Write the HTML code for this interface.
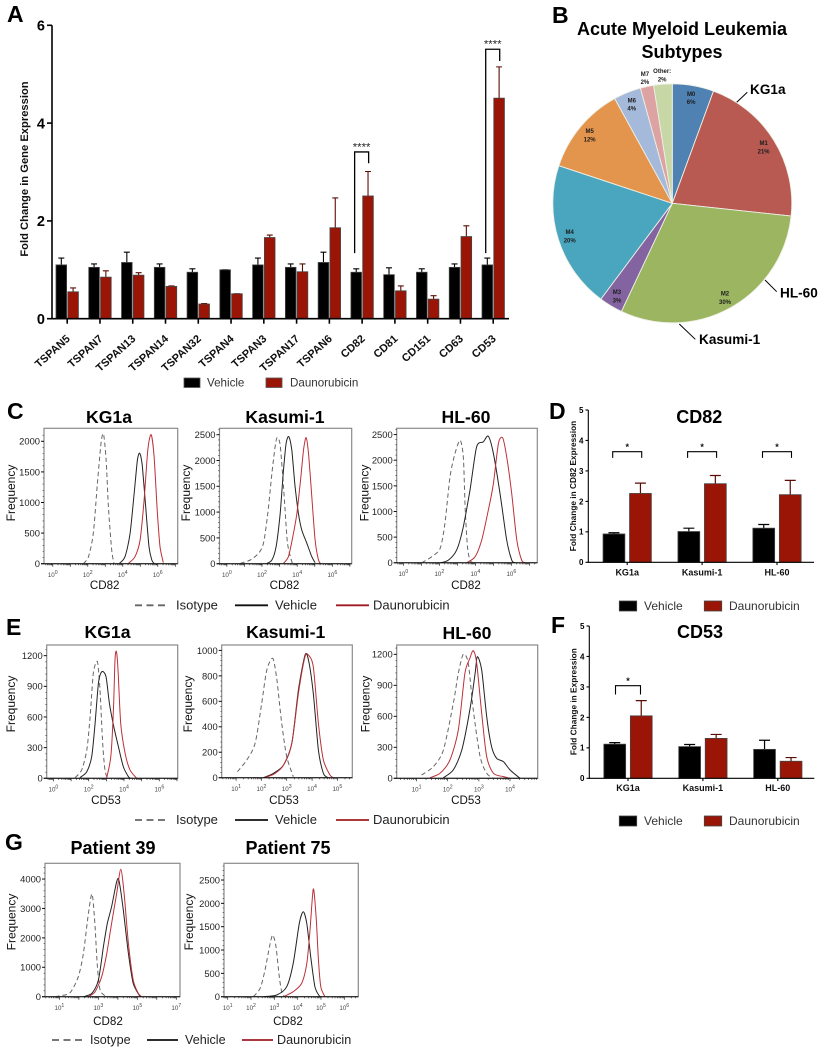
<!DOCTYPE html>
<html lang="en">
<head>
<meta charset="utf-8">
<title>Tetraspanin expression after daunorubicin treatment</title>
<style>
html,body{margin:0;padding:0;background:#fff;}
svg{display:block;font-family:"Liberation Sans",Arial,sans-serif;}
.letter{font-size:23px;font-weight:bold;fill:#000;}
.ptitle{font-size:17.6px;font-weight:bold;fill:#000;text-anchor:middle;}
.legtext{font-size:13px;fill:#222;}
.legsmall{font-size:11.6px;fill:#333;}
.callout{font-size:13.6px;font-weight:bold;fill:#000;}
</style>
</head>
<body>
<svg id="figure" xmlns="http://www.w3.org/2000/svg" width="823" height="1050" viewBox="0 0 823 1050">
  <rect x="0" y="0" width="823" height="1050" fill="#fff"/>

  <text class="letter" x="7" y="22">A</text>
  <text class="letter" x="552" y="23">B</text>
  <text class="letter" x="7" y="419">C</text>
  <text class="letter" x="549" y="419">D</text>
  <text class="letter" x="6" y="635">E</text>
  <text class="letter" x="551" y="633">F</text>
  <text class="letter" x="5" y="850">G</text>

  <!-- Panel A static labels -->
  <text transform="translate(28,169) rotate(-90)" text-anchor="middle" font-size="11.2" font-weight="bold" fill="#111">Fold Change in Gene Expression</text>
  <g>
    <rect x="184" y="378" width="16" height="9.5" fill="#000" stroke="#555" stroke-width="0.8"/>
    <text class="legsmall" x="207" y="386.5">Vehicle</text>
    <rect x="266" y="378" width="16" height="9.5" fill="#9b1506" stroke="#555" stroke-width="0.8"/>
    <text class="legsmall" x="290" y="386.5">Daunorubicin</text>
  </g>

  <!-- Panel B static labels -->
  <text x="682" y="35" text-anchor="middle" font-size="18" font-weight="bold" fill="#000">Acute Myeloid Leukemia</text>
  <text x="682" y="58" text-anchor="middle" font-size="18" font-weight="bold" fill="#000">Subtypes</text>
  <g>
    <line x1="735.7" y1="103.3" x2="747.3" y2="92.3" stroke="#000" stroke-width="1"/>
    <text class="callout" x="750" y="94">KG1a</text>
    <line x1="765" y1="280" x2="776.7" y2="291.7" stroke="#000" stroke-width="1"/>
    <text class="callout" x="780" y="297.5">HL-60</text>
    <line x1="679.3" y1="324" x2="695.3" y2="339.3" stroke="#000" stroke-width="1"/>
    <text class="callout" x="699" y="344">Kasumi-1</text>
  </g>

  <!-- Flow titles -->
  <text class="ptitle" x="109" y="423">KG1a</text>
  <text class="ptitle" x="285" y="423">Kasumi-1</text>
  <text class="ptitle" x="466" y="423">HL-60</text>
  <text class="ptitle" x="107.5" y="638">KG1a</text>
  <text class="ptitle" x="285.7" y="638">Kasumi-1</text>
  <text class="ptitle" x="467" y="639">HL-60</text>
  <text class="ptitle" x="113" y="854" style="font-size:18px">Patient 39</text>
  <text class="ptitle" x="288" y="854" style="font-size:18px">Patient 75</text>

  <!-- Flow legends -->
  <g>
    <line x1="135" y1="605.3" x2="168" y2="605.3" stroke="#666" stroke-width="1.8" stroke-dasharray="7 4.5"/>
    <text class="legtext" x="176" y="609.5">Isotype</text>
    <line x1="235" y1="605.3" x2="268" y2="605.3" stroke="#111" stroke-width="1.8"/>
    <text class="legtext" x="275" y="609.5">Vehicle</text>
    <line x1="336" y1="605.3" x2="369" y2="605.3" stroke="#a01c22" stroke-width="1.8"/>
    <text class="legtext" x="373" y="609.5">Daunorubicin</text>
  </g>
  <g>
    <line x1="135" y1="820" x2="168" y2="820" stroke="#666" stroke-width="1.8" stroke-dasharray="7 4.5"/>
    <text class="legtext" x="176" y="824">Isotype</text>
    <line x1="235" y1="820" x2="268" y2="820" stroke="#111" stroke-width="1.8"/>
    <text class="legtext" x="275" y="824">Vehicle</text>
    <line x1="336" y1="820" x2="369" y2="820" stroke="#a01c22" stroke-width="1.8"/>
    <text class="legtext" x="373" y="824">Daunorubicin</text>
  </g>
  <g>
    <line x1="52" y1="1040" x2="83" y2="1040" stroke="#666" stroke-width="1.8" stroke-dasharray="7 4.5"/>
    <text class="legtext" x="90" y="1044" style="font-size:12.6px">Isotype</text>
    <line x1="147" y1="1040" x2="178" y2="1040" stroke="#111" stroke-width="1.8"/>
    <text class="legtext" x="185" y="1044" style="font-size:12.6px">Vehicle</text>
    <line x1="242" y1="1040" x2="273" y2="1040" stroke="#a01c22" stroke-width="1.8"/>
    <text class="legtext" x="277" y="1044" style="font-size:12.6px">Daunorubicin</text>
  </g>

  <!-- Panels D and F static labels -->
  <text class="ptitle" x="699.3" y="423" style="font-size:18px">CD82</text>
  <text transform="translate(575.8,486) rotate(-90)" text-anchor="middle" font-size="8.3" font-weight="bold" fill="#111">Fold Change in CD82 Expression</text>
  <g>
    <rect x="619.3" y="601" width="17.4" height="10" fill="#000" stroke="#444" stroke-width="0.8"/>
    <text class="legsmall" x="644" y="610" style="font-size:12px">Vehicle</text>
    <rect x="704.3" y="601" width="17.4" height="10" fill="#9b1506" stroke="#444" stroke-width="0.8"/>
    <text class="legsmall" x="729" y="610" style="font-size:12px">Daunorubicin</text>
  </g>
  <text class="ptitle" x="700" y="638" style="font-size:18px">CD53</text>
  <text transform="translate(576.3,701.7) rotate(-90)" text-anchor="middle" font-size="8.3" font-weight="bold" fill="#111">Fold Change in Expression</text>
  <g>
    <rect x="619.3" y="816" width="17.4" height="10" fill="#000" stroke="#444" stroke-width="0.8"/>
    <text class="legsmall" x="644" y="825" style="font-size:12px">Vehicle</text>
    <rect x="704.3" y="816" width="17.4" height="10" fill="#9b1506" stroke="#444" stroke-width="0.8"/>
    <text class="legsmall" x="729" y="825" style="font-size:12px">Daunorubicin</text>
  </g>
</svg>

<script>
/* ---------- Panel A data ---------- */
const aCategories = ['TSPAN5','TSPAN7','TSPAN13','TSPAN14','TSPAN32','TSPAN4','TSPAN3','TSPAN17','TSPAN6','CD82','CD81','CD151','CD63','CD53'];
const aVehicle = [1.1,1.05,1.15,1.05,0.95,1.0,1.1,1.05,1.15,0.95,0.9,0.95,1.05,1.1];
const aVehicleUpper = [1.24,1.12,1.36,1.12,1.02,1.0,1.24,1.12,1.36,1.02,1.04,1.02,1.12,1.24];
const aDauno = [0.55,0.85,0.89,0.66,0.3,0.51,1.66,0.96,1.86,2.51,0.57,0.4,1.68,4.51];
const aDaunoUpper = [0.63,0.98,0.94,0.67,0.31,0.51,1.71,1.12,2.47,3.01,0.67,0.47,1.9,5.15];
const aYTicks = [0,2,4,6];
const aSigGroups = [9,13];
const aSigTops = [3.41,5.51];
const aSigLeftEnds = [1.34,1.34];
const aSigRightEnds = [3.18,5.27];
const aSigLabels = ['****','****'];

/* ---------- Panel B data ---------- */
const pieNames = ['M0','M1','M2','M3','M4','M5','M6','M7','Other:'];
const pieValues = [5.6,21.1,30.3,3.2,19.9,11.9,3.7,1.8,2.5];
const piePrinted = ['6%','21%','30%','3%','20%','12%','4%','2%','2%'];
const pieColors = ['#4f81b3','#b95a52','#9bb561','#8364a0','#4aa5bf','#e4954d','#a5b9da','#dca3a2','#c7d7a5'];

/* ---------- Panels D and F data ---------- */
const barCategories = ['KG1a','Kasumi-1','HL-60'];
const barYTicks = [0,1,2,3,4,5];
const dVehicle = [0.93,1.01,1.12];
const dVehicleUpper = [0.97,1.12,1.24];
const dDauno = [2.26,2.58,2.22];
const dDaunoUpper = [2.6,2.85,2.69];
const dSigGroups = [0,1,2];
const dSigTops = [3.63,3.63,3.63];
const dSigEnds = [3.43,3.43,3.43];
const fVehicle = [1.12,1.04,0.95];
const fVehicleUpper = [1.17,1.11,1.25];
const fDauno = [2.05,1.31,0.56];
const fDaunoUpper = [2.55,1.44,0.68];
const fSigGroups = [0];
const fSigTops = [3.04];
const fSigEnds = [2.75];

/* ---------- Flow histogram data: [log10 intensity, frequency] ---------- */
const c1Isotype = [[1.75,0],[2.04,115],[2.32,496],[2.55,1313],[2.76,1967],[2.9,2120],[3.05,1695],[3.18,932],[3.37,223],[3.5,0]];
const c1Vehicle = [[3.81,5],[4.13,114],[4.42,496],[4.67,1204],[4.84,1695],[4.97,1804],[5.12,1586],[5.31,930],[5.5,278],[5.66,60],[5.81,0]];
const c1Dauno = [[4.32,5],[4.7,114],[4.99,387],[5.22,1041],[5.43,1858],[5.62,2109],[5.79,1750],[5.98,823],[6.13,278],[6.32,16]];
const c2Isotype = [[0.76,6],[1.33,71],[1.8,200],[2.08,394],[2.33,975],[2.56,1750],[2.77,2332],[2.88,2448],[3.03,2300],[3.18,1686],[3.31,1040],[3.45,394],[3.69,39],[3.79,0]];
const c2Vehicle = [[2.27,6],[2.56,71],[2.8,330],[3.03,975],[3.22,1815],[3.37,2332],[3.52,2461],[3.69,2203],[3.88,1492],[4.07,975],[4.26,652],[4.55,394],[4.83,136],[5.02,19]];
const c2Dauno = [[3.22,6],[3.5,136],[3.75,523],[3.98,975],[4.17,1557],[4.36,2203],[4.51,2442],[4.66,2073],[4.83,1298],[5.02,459],[5.21,71],[5.34,0]];
const c3Isotype = [[1.02,0],[1.57,117],[2.04,279],[2.31,766],[2.59,1675],[2.87,2130],[3.15,2390],[3.33,2065],[3.43,1091],[3.56,312],[3.7,52],[3.89,0]];
const c3Vehicle = [[2.04,0],[2.5,52],[2.96,247],[3.33,701],[3.7,1416],[4.07,2260],[4.44,2357],[4.72,2468],[5,2130],[5.37,1351],[5.74,442],[6.02,52],[6.2,0]];
const c3Dauno = [[3.52,0],[3.98,117],[4.35,442],[4.72,1026],[5,1545],[5.28,2325],[5.52,2435],[5.74,2065],[6.02,1351],[6.3,442],[6.57,52],[6.76,0]];
const e1Isotype = [[1.23,7],[1.6,82],[1.89,277],[2.08,603],[2.26,1027],[2.49,1141],[2.64,864],[2.79,342],[2.92,82],[3.06,0]];
const e1Vehicle = [[1.51,7],[1.89,65],[2.17,212],[2.36,538],[2.55,929],[2.74,1043],[2.98,995],[3.17,734],[3.4,522],[3.68,310],[3.96,114],[4.25,16],[4.38,0]];
const e1Dauno = [[3.02,7],[3.25,212],[3.4,668],[3.49,1157],[3.57,1242],[3.66,1060],[3.81,538],[4.06,245],[4.34,82],[4.72,0]];
const e2Isotype = [[1.05,47],[1.42,139],[1.75,270],[2.01,584],[2.21,846],[2.45,937],[2.61,770],[2.8,429],[3,165],[3.26,8]];
const e2Vehicle = [[2.08,0],[2.47,34],[2.87,99],[3.2,270],[3.46,688],[3.72,963],[3.86,924],[4.05,662],[4.25,217],[4.45,34],[4.64,0]];
const e2Dauno = [[2.14,0],[2.54,34],[2.87,99],[3.2,270],[3.46,662],[3.72,950],[3.86,963],[4.05,872],[4.25,427],[4.45,139],[4.71,21],[4.84,0]];
const e3Isotype = [[1.16,32],[1.54,113],[1.86,274],[2.18,726],[2.34,1016],[2.5,1200],[2.66,1113],[2.82,661],[3.04,210],[3.25,48],[3.47,0]];
const e3Vehicle = [[1.86,6],[2.18,81],[2.45,274],[2.71,661],[2.88,1016],[2.95,1177],[3.09,1048],[3.25,597],[3.41,306],[3.57,194],[3.79,161],[4,81],[4.32,0]];
const e3Dauno = [[1.43,6],[1.75,48],[2.07,177],[2.34,468],[2.55,1016],[2.71,1161],[2.82,1235],[2.93,1113],[3.09,629],[3.25,210],[3.47,48],[3.79,16],[4,0]];
const g1Isotype = [[0.78,0],[1.03,34],[1.55,136],[1.97,680],[2.23,1473],[2.49,2833],[2.68,3490],[2.83,2380],[2.95,1020],[3.09,227],[3.34,34],[3.51,0]];
const g1Vehicle = [[2.23,0],[2.66,113],[3,567],[3.26,1700],[3.46,2493],[3.68,3059],[3.94,3909],[4.06,3943],[4.28,2946],[4.54,1473],[4.79,453],[5.14,0]];
const g1Dauno = [[2.49,0],[2.83,170],[3.17,680],[3.43,1473],[3.68,2493],[3.94,3513],[4.15,4329],[4.32,3513],[4.54,1813],[4.79,567],[5.05,113],[5.22,0]];
const g2Isotype = [[2.1,0],[2.39,179],[2.6,571],[2.79,1071],[2.93,1321],[3.07,1071],[3.21,429],[3.33,71],[3.46,0]];
const g2Vehicle = [[2.53,0],[3.1,36],[3.53,214],[3.81,714],[4.07,1571],[4.24,1821],[4.39,1571],[4.56,857],[4.74,214],[4.93,14],[5.03,0]];
const g2Dauno = [[3.39,0],[3.81,107],[4.17,286],[4.39,714],[4.53,1429],[4.67,2307],[4.79,1714],[4.89,800],[4.99,214],[5.17,0]];

/* Tick values */
const cKgYTicks = [0,500,1000,1500,2000];
const cYTicks = [0,500,1000,1500,2000,2500];
const eKgYTicks = [0,300,600,900,1200];
const eKasYTicks = [0,200,400,600,800,1000];
const g1YTicks = [0,1000,2000,3000,4000];
const g2YTicks = [0,500,1000,1500,2000,2500];
const evenDecades = [0,2,4,6];
const e2Decades = [1,2,3,4,5];
const e3Decades = [1,2,3,4];
const g1Decades = [1,3,5,7];
const g2Decades = [1,2,3,4,5,6];

/* ---------- Helpers ---------- */
const NS = 'http://www.w3.org/2000/svg';
const figure = document.getElementById('figure');
function make(tag, attrs, parent) {
  const node = document.createElementNS(NS, tag);
  for (const k in attrs) node.setAttribute(k, attrs[k]);
  parent.appendChild(node);
  return node;
}
function smoothPath(pts) {
  let d = 'M' + pts[0][0].toFixed(1) + ' ' + pts[0][1].toFixed(1);
  for (let i = 0; i < pts.length - 1; i++) {
    const p0 = pts[Math.max(i - 1, 0)], p1 = pts[i], p2 = pts[i + 1], p3 = pts[Math.min(i + 2, pts.length - 1)];
    const t = 0.13;
    d += 'C' + (p1[0] + (p2[0] - p0[0]) * t).toFixed(1) + ' ' + (p1[1] + (p2[1] - p0[1]) * t).toFixed(1) + ' ' +
         (p2[0] - (p3[0] - p1[0]) * t).toFixed(1) + ' ' + (p2[1] - (p3[1] - p1[1]) * t).toFixed(1) + ' ' +
         p2[0].toFixed(1) + ' ' + p2[1].toFixed(1);
  }
  return d;
}

/* ---------- Grouped bars (A, D, F) ---------- */
function drawBars(panel, o) {
  const root = make('g', {}, figure);
  
  
  const y = v => o.zeroY - v * o.unit;
  const gx = i => o.firstX + i * o.step;

  o.categories.forEach((cat, i) => {
    const cx = gx(i);
    const series = [
      {key: 'vehicle', v: o.vehicle[i], up: o.vehicleUpper[i], left: cx - o.gap / 2 - o.barW, fill: '#000'},
      {key: 'daunorubicin', v: o.dauno[i], up: o.daunoUpper[i], left: cx + o.gap / 2, fill: '#9b1506'}
    ];
    series.forEach(s => {
      const mid = s.left + o.barW / 2;
      const err = make('path', {
        d: 'M' + mid + ' ' + y(s.v) + 'V' + y(s.up) + 'M' + (mid - o.cap / 2) + ' ' + y(s.up) + 'H' + (mid + o.cap / 2),
        stroke: s.key === 'vehicle' ? '#000' : '#5a0d05', 'stroke-width': o.errW, fill: 'none'
      }, root);
      
      
      const bar = make('rect', {
        x: s.left, y: y(s.v), width: o.barW, height: o.zeroY - y(s.v),
        fill: s.fill, stroke: '#444', 'stroke-width': 0.8
      }, root);
      
      
    });

    const tick = make('line', {x1: cx, x2: cx, y1: o.zeroY, y2: o.zeroY + o.tickLen, stroke: '#000', 'stroke-width': o.axisW}, root);
    
    

    let lab;
    if (o.rotated) {
      lab = make('text', {
        transform: 'translate(' + (cx + 3.5) + ',' + (o.zeroY + 21) + ') rotate(-42)',
        'text-anchor': 'end', 'font-size': 11, 'font-weight': 'bold', fill: '#111'
      }, root);
    } else {
      lab = make('text', {x: cx, y: o.labelY, 'text-anchor': 'middle', 'font-size': 9, 'font-weight': 'bold', fill: '#111'}, root);
    }
    lab.textContent = cat;
    
    
  });

  const yAxis = make('line', {x1: o.axisX, x2: o.axisX, y1: y(o.yTicks[o.yTicks.length - 1]), y2: o.zeroY + o.axisW / 2, stroke: '#000', 'stroke-width': o.axisW}, root);
  
  
  const xAxis = make('line', {x1: o.axisX, x2: o.axisEnd, y1: o.zeroY, y2: o.zeroY, stroke: '#000', 'stroke-width': o.axisW}, root);
  
  

  o.yTicks.forEach(v => {
    const t = make('line', {x1: o.axisX - o.tickLen, x2: o.axisX, y1: y(v), y2: y(v), stroke: '#000', 'stroke-width': o.axisW}, root);
    
    
    const l = make('text', {
      x: o.axisX - o.tickLen - 2, y: y(v) + o.yFont * 0.36,
      'text-anchor': 'end', 'font-size': o.yFont, 'font-weight': 'bold', fill: '#000'
    }, root);
    l.textContent = v;
    
    
  });
  return {root, y, gx};
}

/* Panel A */
(function () {
  const chart = drawBars('panel-a', {
    categories: aCategories, vehicle: aVehicle, vehicleUpper: aVehicleUpper, dauno: aDauno, daunoUpper: aDaunoUpper,
    yTicks: aYTicks, zeroY: 318.7, unit: 48.9, firstX: 67.2, step: 32.77, barW: 10.6, gap: 1.2, cap: 6, errW: 1.1,
    axisX: 52, axisEnd: 509, axisW: 1.6, tickLen: 5, yFont: 14.5, rotated: true
  });
  aSigGroups.forEach((g, i) => {
    const cx = chart.gx(g) - 0.5;
    const br = make('path', {
      d: 'M' + (cx - 7) + ' ' + chart.y(aSigLeftEnds[i]) + 'V' + chart.y(aSigTops[i]) + 'H' + (cx + 7) + 'V' + chart.y(aSigRightEnds[i]),
      fill: 'none', stroke: '#000', 'stroke-width': 1.3
    }, chart.root);
    
    
    const st = make('text', {x: cx, y: chart.y(aSigTops[i]) - 1.7, 'text-anchor': 'middle', 'font-size': 11.4, fill: '#222'}, chart.root);
    st.textContent = aSigLabels[i];
    
    
  });
})();

/* Panels D and F */
function smallBars(panel, o, sigGroups, sigTops, sigEnds, halfSpan) {
  const chart = drawBars(panel, Object.assign({
    categories: barCategories, yTicks: barYTicks, unit: 30.46, step: 74.9, barW: 21.8, gap: 4.7, cap: 11, errW: 1.2,
    axisW: 1.1, tickLen: 2.8, yFont: 8, rotated: false
  }, o));
  sigGroups.forEach((g, i) => {
    const cx = chart.gx(g);
    const br = make('path', {
      d: 'M' + (cx - halfSpan) + ' ' + chart.y(sigEnds[i]) + 'V' + chart.y(sigTops[i]) + 'H' + (cx + halfSpan) + 'V' + chart.y(sigEnds[i]),
      fill: 'none', stroke: '#000', 'stroke-width': 1.1
    }, chart.root);
    
    
    const st = make('text', {x: cx, y: chart.y(sigTops[i]) - 1.5, 'text-anchor': 'middle', 'font-size': 9, 'font-weight': 'bold', fill: '#111'}, chart.root);
    st.textContent = '*';
    
    
  });
}
smallBars('panel-d', {vehicle: dVehicle, vehicleUpper: dVehicleUpper, dauno: dDauno, daunoUpper: dDaunoUpper,
  zeroY: 562.3, firstX: 627.2, axisX: 588.3, axisEnd: 814, labelY: 575.5}, dSigGroups, dSigTops, dSigEnds, 14.5);
smallBars('panel-f', {vehicle: fVehicle, vehicleUpper: fVehicleUpper, dauno: fDauno, daunoUpper: fDaunoUpper,
  zeroY: 778.3, firstX: 628, axisX: 589.3, axisEnd: 814.3, labelY: 791}, fSigGroups, fSigTops, fSigEnds, 12.5);

/* ---------- Pie ---------- */
(function () {
  const root = make('g', {}, figure);
  
  
  const cx = 672.3, cy = 203.3, r = 119.5;
  const total = pieValues.reduce((a, b) => a + b, 0);
  const polar = (frac, rad) => {
    const a = frac * 2 * Math.PI;
    return [cx + rad * Math.sin(a), cy - rad * Math.cos(a)];
  };
  let acc = 0;
  pieValues.forEach((v, i) => {
    const start = acc / total, end = (acc + v) / total;
    acc += v;
    const p0 = polar(start, r), p1 = polar(end, r);
    const slice = make('path', {
      d: 'M' + cx + ' ' + cy + 'L' + p0[0] + ' ' + p0[1] + 'A' + r + ' ' + r + ' 0 ' + ((end - start) > 0.5 ? 1 : 0) + ' 1 ' + p1[0] + ' ' + p1[1] + 'Z',
      fill: pieColors[i], stroke: '#eef0e6', 'stroke-width': 0.9
    }, root);
    
    
    const lp = polar((start + end) / 2, r * (i >= 7 ? 1.08 : 0.9));
    const nameText = make('text', {x: lp[0], y: lp[1] - 1.4, 'text-anchor': 'middle', 'font-size': 6, 'font-weight': 'bold', fill: '#1c1c1c'}, root);
    nameText.textContent = pieNames[i];
    
    
    const pct = make('text', {x: lp[0], y: lp[1] + 6.8, 'text-anchor': 'middle', 'font-size': 6, 'font-weight': 'bold', fill: '#1c1c1c'}, root);
    pct.textContent = piePrinted[i];
    
    
  });
})();

/* ---------- Flow histograms ---------- */
function drawFlow(panel, o) {
  const root = make('g', {}, figure);
  
  
  const x = l => o.left + (l - o.xMin) / (o.xMax - o.xMin) * (o.right - o.left);
  const y = v => o.zeroY - v * o.unit;

  const frame = make('rect', {x: o.left, y: o.top, width: o.right - o.left, height: o.zeroY - o.top, fill: 'none', stroke: '#8a8a8a', 'stroke-width': 1.2}, root);
  
  

  const stroke = [['isotype', '#666', '4.5 3', o.isotype], ['vehicle', '#222', 'none', o.vehicle], ['daunorubicin', '#bb3038', 'none', o.dauno]];
  stroke.forEach(s => {
    const c = make('path', {
      d: smoothPath(s[3].map(p => [x(p[0]), y(p[1])])),
      fill: 'none', stroke: s[1], 'stroke-width': 1, 'stroke-dasharray': s[2]
    }, root);
    
    
  });

  const xAxis = make('line', {x1: o.left - 3, x2: o.right, y1: o.zeroY, y2: o.zeroY, stroke: '#111', 'stroke-width': 1}, root);
  
  

  let minor = '';
  for (let dec = Math.floor(o.xMin); dec < Math.ceil(o.xMax); dec++) {
    for (let m = 2; m < 10; m++) {
      const px = x(dec + Math.log10(m));
      if (px > o.left && px < o.right) minor += 'M' + px.toFixed(1) + ' ' + o.zeroY + 'v1.6';
    }
    const major = x(dec);
    if (major >= o.left && major <= o.right) minor += 'M' + major.toFixed(1) + ' ' + o.zeroY + 'v3';
  }
  const minorPath = make('path', {d: minor, stroke: '#222', 'stroke-width': 0.7, fill: 'none'}, root);
  
  

  o.xTicks.forEach(dec => {
    const t = make('text', {x: x(dec), y: o.zeroY + 13.2, 'text-anchor': 'middle', 'font-size': 6.2, fill: '#444'}, root);
    
    
    const base = make('tspan', {}, t);
    base.textContent = '10';
    
    
    const sup = make('tspan', {dy: -2.8, 'font-size': 5.2}, t);
    sup.textContent = dec;
    
    
  });

  const step = (o.yTicks[1] - o.yTicks[0]) / 5;
  let yMinor = '';
  for (let v = step; y(v) > o.top + 1; v += step) {
    yMinor += 'M' + (o.left - 1.4) + ' ' + y(v).toFixed(1) + 'h1.4';
  }
  const yMinorPath = make('path', {d: yMinor, stroke: '#333', 'stroke-width': 0.6, fill: 'none'}, root);
  
  

  o.yTicks.forEach(v => {
    const t = make('line', {x1: o.left - 3, x2: o.left, y1: y(v), y2: y(v), stroke: '#111', 'stroke-width': 1}, root);
    
    
    const l = make('text', {x: o.left - 4, y: y(v) + 3.4, 'text-anchor': 'end', 'font-size': 9.4, fill: '#222'}, root);
    l.textContent = v;
    
    
  });

  const yTitle = make('text', {transform: 'translate(' + o.freqX + ',' + o.freqY + ') rotate(-90)', 'text-anchor': 'middle', 'font-size': 12, fill: '#111'}, root);
  yTitle.textContent = 'Frequency';
  
  
  const xTitle = make('text', {x: o.xLabelX, y: o.xLabelY, 'text-anchor': 'middle', 'font-size': 11.6, fill: '#111'}, root);
  xTitle.textContent = o.marker;
  
  
}

drawFlow('panel-c-kg1a', {left: 44, right: 177.7, top: 428.3, zeroY: 563.7, unit: 0.0612, xMin: -0.5, xMax: 7.14, xTicks: evenDecades, yTicks: cKgYTicks,
  isotype: c1Isotype, vehicle: c1Vehicle, dauno: c1Dauno, freqX: 15, freqY: 493, xLabelX: 104.7, xLabelY: 589, marker: 'CD82'});
drawFlow('panel-c-kasumi1', {left: 219.5, right: 351.7, top: 428.3, zeroY: 563.7, unit: 0.0516, xMin: -0.42, xMax: 7.1, xTicks: evenDecades, yTicks: cYTicks,
  isotype: c2Isotype, vehicle: c2Vehicle, dauno: c2Dauno, freqX: 190, freqY: 493, xLabelX: 284.5, xLabelY: 589, marker: 'CD82'});
drawFlow('panel-c-hl60', {left: 396.7, right: 537.3, top: 428.3, zeroY: 562.8, unit: 0.0513, xMin: -0.37, xMax: 7.44, xTicks: evenDecades, yTicks: cYTicks,
  isotype: c3Isotype, vehicle: c3Vehicle, dauno: c3Dauno, freqX: 368.5, freqY: 493, xLabelX: 466, xLabelY: 589, marker: 'CD82'});
drawFlow('panel-e-kg1a', {left: 46.7, right: 177.7, top: 645, zeroY: 778.3, unit: 0.1022, xMin: -0.38, xMax: 7.04, xTicks: evenDecades, yTicks: eKgYTicks,
  isotype: e1Isotype, vehicle: e1Vehicle, dauno: e1Dauno, freqX: 15, freqY: 704, xLabelX: 106, xLabelY: 804, marker: 'CD53'});
drawFlow('panel-e-kasumi1', {left: 221.7, right: 352.3, top: 645, zeroY: 777.7, unit: 0.1273, xMin: 0.43, xMax: 5.59, xTicks: e2Decades, yTicks: eKasYTicks,
  isotype: e2Isotype, vehicle: e2Vehicle, dauno: e2Dauno, freqX: 192, freqY: 704, xLabelX: 284, xLabelY: 804, marker: 'CD53'});
drawFlow('panel-e-hl60', {left: 396.7, right: 537.7, top: 645, zeroY: 778.3, unit: 0.1033, xMin: 0.36, xMax: 4.89, xTicks: e3Decades, yTicks: eKgYTicks,
  isotype: e3Isotype, vehicle: e3Vehicle, dauno: e3Dauno, freqX: 369.5, freqY: 704, xLabelX: 466, xLabelY: 804, marker: 'CD53'});
drawFlow('panel-g-patient39', {left: 45, right: 180, top: 863.3, zeroY: 996.7, unit: 0.02942, xMin: 0.26, xMax: 7.19, xTicks: g1Decades, yTicks: g1YTicks,
  isotype: g1Isotype, vehicle: g1Vehicle, dauno: g1Dauno, freqX: 15.7, freqY: 922, xLabelX: 108, xLabelY: 1025, marker: 'CD82'});
drawFlow('panel-g-patient75', {left: 224, right: 358.3, top: 863.3, zeroY: 996.7, unit: 0.04667, xMin: 0.84, xMax: 6.6, xTicks: g2Decades, yTicks: g2YTicks,
  isotype: g2Isotype, vehicle: g2Vehicle, dauno: g2Dauno, freqX: 193, freqY: 922, xLabelX: 288, xLabelY: 1025, marker: 'CD82'});
</script>
</body>
</html>
